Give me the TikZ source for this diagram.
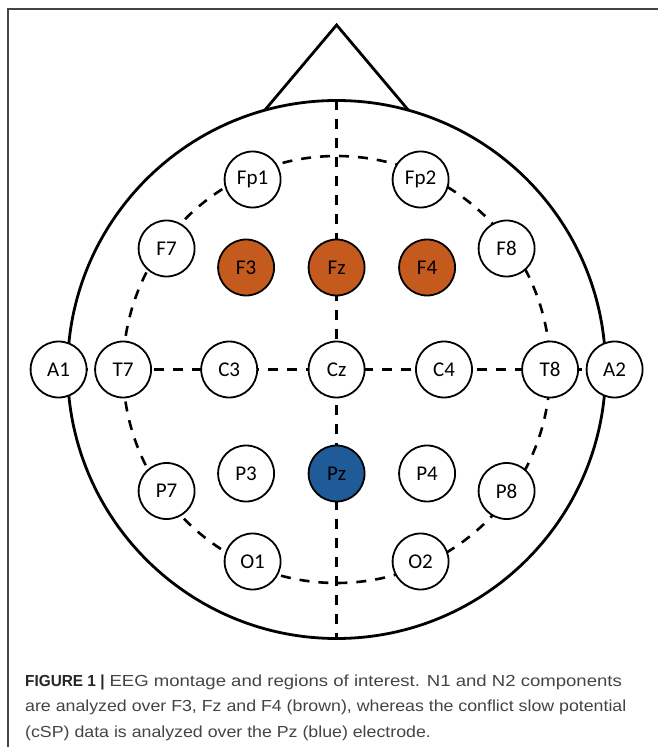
\documentclass[tikz,border=0pt]{standalone}
\usepackage{fontspec}
\usepackage{xcolor}
\usepackage{tikz}
\usetikzlibrary{backgrounds}
\newfontfamily\elecfont{Carlito}
\newfontfamily\capfont{Liberation Sans}[FakeStretch=1.11]
\newfontfamily\capwidefont{Liberation Sans}[FakeStretch=1.16]
\newfontfamily\capboldfont{Liberation Sans}[FakeStretch=0.96]
\definecolor{roibrown}{HTML}{C55A1E}
\definecolor{cspblue}{HTML}{1F5A99}
\definecolor{capgray}{HTML}{444444}

\begin{document}
\begin{tikzpicture}[x=1pt, y=1pt,
        electrode/.style={circle, draw=black, line width=1.8pt, fill=white, minimum size=56pt, inner sep=0pt, font=\elecfont\fontsize{21}{21}\selectfont},
        roi/.style={electrode, fill=roibrown},
        csp/.style={electrode, fill=cspblue},
        guide/.style={line width=2.6pt, dash pattern=on 10pt off 9pt},
        skull/.style={line width=2.8pt},
        captext/.style={anchor=base west, inner sep=0pt, text=capgray, font=\capfont\fontsize{16}{18}\selectfont}]
        \useasboundingbox (-336.6,-377.5) rectangle (321.4,369.5);

        % frame
        \draw[capgray, line width=1.2pt] (-328.6,-377.5) -- (-328.6,360.5) -- (321.4,360.5);

        \coordinate (ctr) at (0,0);
        \coordinate (top) at (0,269);
        \coordinate (bot) at (0,-269);
        \coordinate (nose) at (0,344.5);
        \coordinate (noseL) at (105.5:269);
        \coordinate (noseR) at (74.5:269);

        % electrodes
        \node[electrode] (Fp1) at (-84, 190) {Fp1};
        \node[electrode] (Fp2) at (84, 190) {Fp2};
        \node[electrode] (F7) at (-170, 121) {F7};
        \node[electrode] (F8) at (170, 121) {F8};
        \node[roi] (F3) at (-90.5, 102) {F3};
        \node[roi] (Fz) at (0, 102) {Fz};
        \node[roi] (F4) at (90.5, 102) {F4};
        \node[electrode] (A1) at (-278, 0) {A1};
        \node[electrode] (T7) at (-213.5, 0) {T7};
        \node[electrode] (C3) at (-107.4, 0) {C3};
        \node[electrode] (Cz) at (0, 0) {Cz};
        \node[electrode] (C4) at (107.4, 0) {C4};
        \node[electrode] (T8) at (213.5, 0) {T8};
        \node[electrode] (A2) at (278, 0) {A2};
        \node[electrode] (P3) at (-90.5, -104) {P3};
        \node[csp] (Pz) at (0, -104) {Pz};
        \node[electrode] (P4) at (90.5, -104) {P4};
        \node[electrode] (P7) at (-170, -121.5) {P7};
        \node[electrode] (P8) at (170, -121.5) {P8};
        \node[electrode] (O1) at (-84, -192) {O1};
        \node[electrode] (O2) at (84, -192) {O2};

        % head outline and guide lines behind the electrodes
        \begin{scope}[on background layer]
            \draw[guide] (ctr) circle (213.5);
            \draw[guide] (A1.center) -- (A2.center);
            \draw[guide] (top) -- (bot);
            \draw[skull] (ctr) circle (269);
            \draw[skull] (noseL) -- (nose) -- (noseR);
        \end{scope}

        % caption
        \node[captext] (cap1) at (-311.6,-316.5) {{\capboldfont\bfseries\color{black!85}FIGURE 1 |} {\capwidefont EEG montage and regions of interest. N1 and N2 components}};
        \node[captext] (cap2) at (-311.6,-341.5) {are analyzed over F3, Fz and F4 (brown), whereas the conflict slow potential};
        \node[captext] (cap3) at (-311.6,-367.5) {(cSP) data is analyzed over the Pz (blue) electrode.};
    \end{tikzpicture}
\end{document}
